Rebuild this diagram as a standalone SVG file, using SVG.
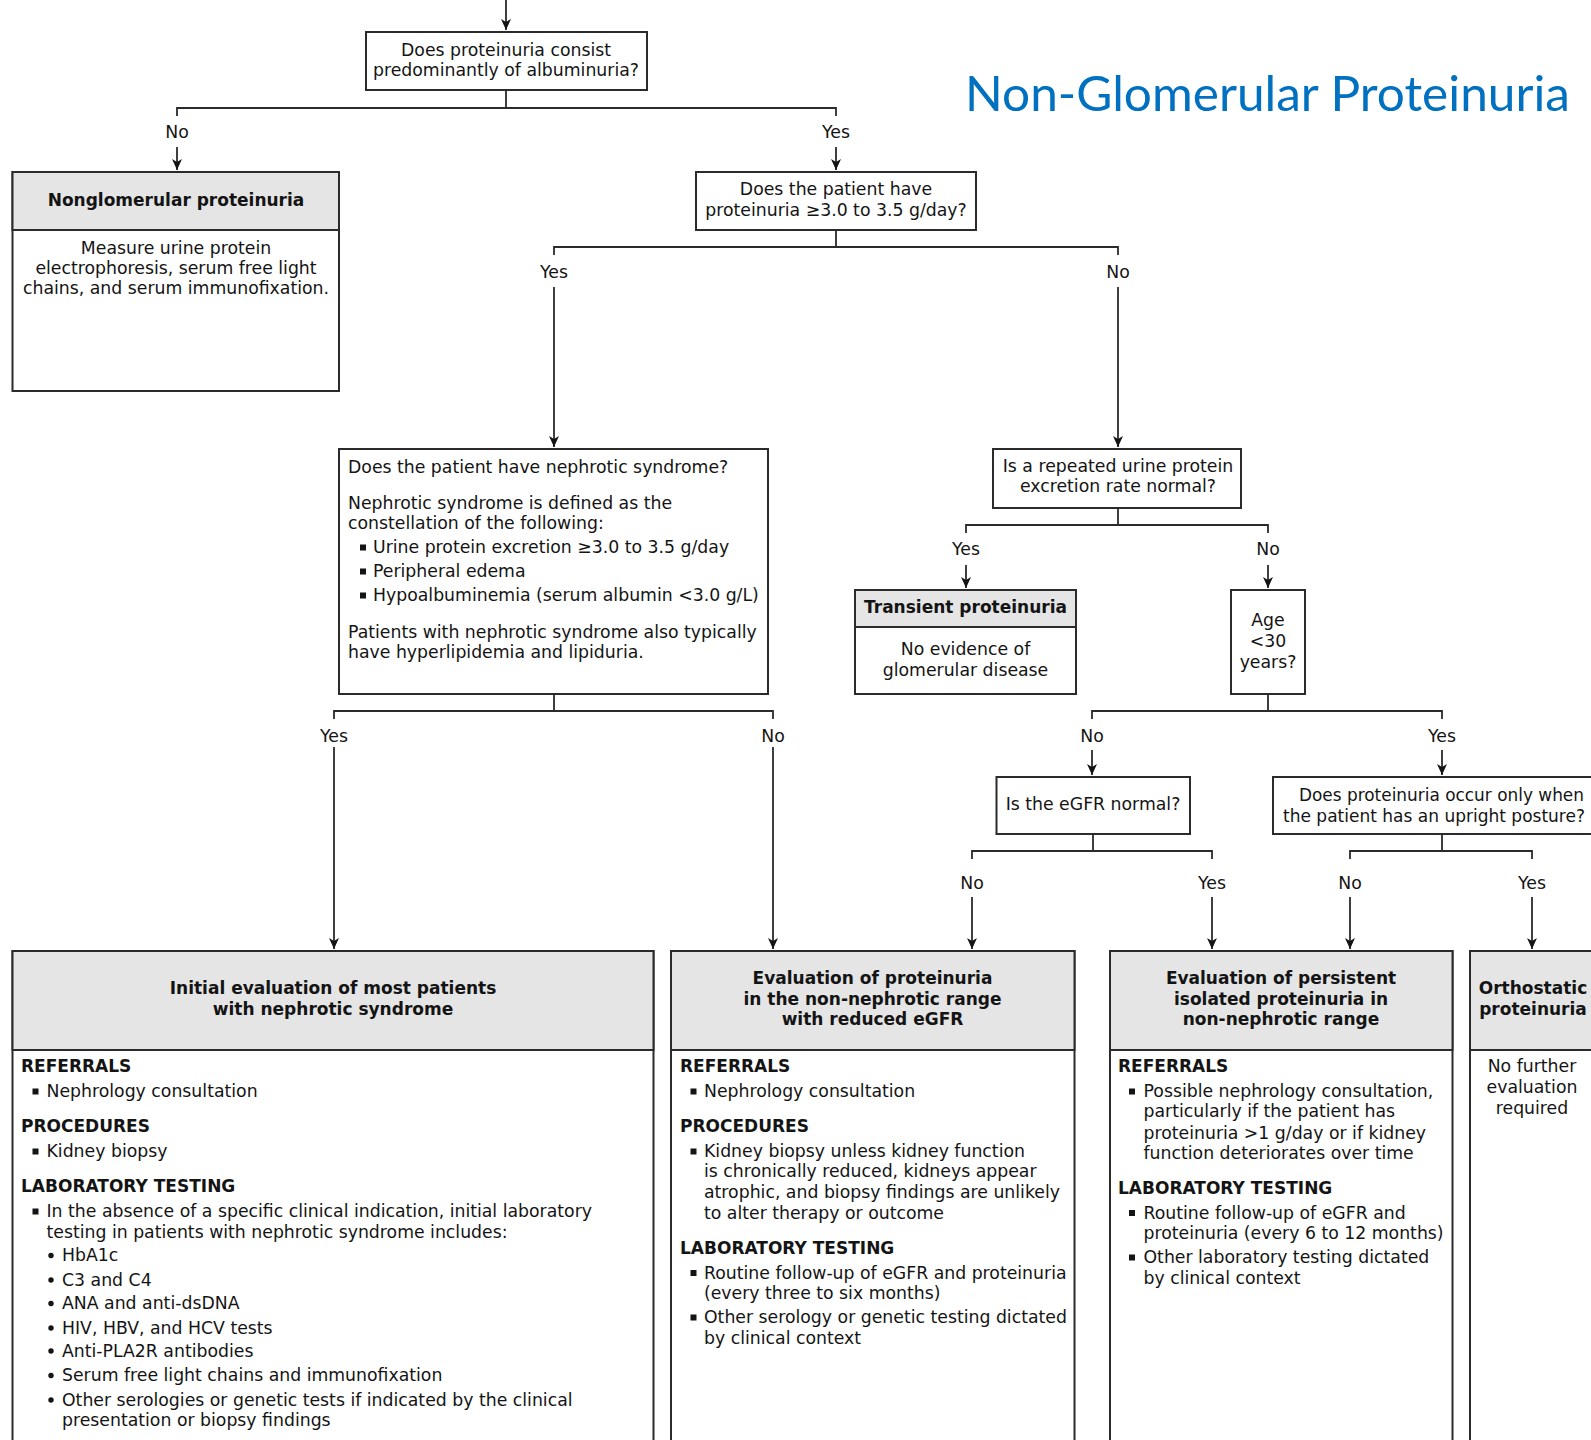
<svg xmlns="http://www.w3.org/2000/svg" width="1591" height="1440" viewBox="0 0 1591 1440">
<defs>
<style>
.t{font-family:"DejaVu Sans",Verdana,sans-serif;font-size:17.3px;fill:#141414}
.b{font-weight:bold;font-size:17px}
.c{text-anchor:middle}
.box{fill:#fff;stroke:#2b2b2b;stroke-width:2}
.hd{fill:#e5e5e5;stroke:#2b2b2b;stroke-width:2}
.ln{fill:none;stroke:#2b2b2b;stroke-width:1.8}
.sq{fill:#141414}
.title{font-family:Lato,"Open Sans",sans-serif;font-size:48px;fill:#0070c0}
</style>
<marker id="ah" viewBox="0 -5 11 10" refX="11" refY="0" markerWidth="11" markerHeight="10" markerUnits="userSpaceOnUse" orient="auto">
<path d="M0,-5 L11,0 L0,5 L3,0 z" fill="#141414"/>
</marker>
</defs>
<rect width="1591" height="1440" fill="#fff"/>

<text class="title" x="965" y="111" textLength="605" lengthAdjust="spacingAndGlyphs">Non-Glomerular Proteinuria</text>

<g id="connectors">
<path class="ln" d="M506,0 V30" marker-end="url(#ah)"/>
<path class="ln" d="M506,90 V108 M177,116 V108 H836 V116"/>
<path class="ln" d="M177,147 V170" marker-end="url(#ah)"/>
<path class="ln" d="M836,147 V170" marker-end="url(#ah)"/>
<path class="ln" d="M836,230 V247 M554,255 V247 H1118 V255"/>
<path class="ln" d="M554,287 V447" marker-end="url(#ah)"/>
<path class="ln" d="M1118,287 V447" marker-end="url(#ah)"/>
<path class="ln" d="M554,694 V711 M334,719 V711 H773 V719"/>
<path class="ln" d="M334,747 V949" marker-end="url(#ah)"/>
<path class="ln" d="M773,747 V949" marker-end="url(#ah)"/>
<path class="ln" d="M1118,508 V525 M966,533 V525 H1268 V533"/>
<path class="ln" d="M966,565 V588" marker-end="url(#ah)"/>
<path class="ln" d="M1268,565 V588" marker-end="url(#ah)"/>
<path class="ln" d="M1268,694 V711 M1092,719 V711 H1442 V719"/>
<path class="ln" d="M1092,750 V775" marker-end="url(#ah)"/>
<path class="ln" d="M1442,750 V775" marker-end="url(#ah)"/>
<path class="ln" d="M1093,834 V851 M972,859 V851 H1212 V859"/>
<path class="ln" d="M972,897 V949" marker-end="url(#ah)"/>
<path class="ln" d="M1212,897 V949" marker-end="url(#ah)"/>
<path class="ln" d="M1442,834 V851 M1350,859 V851 H1532 V859"/>
<path class="ln" d="M1350,897 V949" marker-end="url(#ah)"/>
<path class="ln" d="M1532,897 V949" marker-end="url(#ah)"/>
<text class="t c" x="177" y="138">No</text>
<text class="t c" x="836" y="138">Yes</text>
<text class="t c" x="554" y="278">Yes</text>
<text class="t c" x="1118" y="278">No</text>
<text class="t c" x="334" y="742">Yes</text>
<text class="t c" x="773" y="742">No</text>
<text class="t c" x="966" y="555">Yes</text>
<text class="t c" x="1268" y="555">No</text>
<text class="t c" x="1092" y="742">No</text>
<text class="t c" x="1442" y="742">Yes</text>
<text class="t c" x="972" y="889">No</text>
<text class="t c" x="1212" y="889">Yes</text>
<text class="t c" x="1350" y="889">No</text>
<text class="t c" x="1532" y="889">Yes</text>
</g>

<g id="q-albuminuria">
<rect class="box" x="366" y="32" width="281" height="58"/>
<text class="t c" x="506" y="56">Does proteinuria consist</text>
<text class="t c" x="506" y="76">predominantly of albuminuria?</text>
</g>

<g id="nonglomerular">
<rect class="box" x="12.5" y="172" width="326.5" height="219"/>
<rect class="hd" x="12.5" y="172" width="326.5" height="58"/>
<text class="t b c" x="176" y="206">Nonglomerular proteinuria</text>
<text class="t c" x="176" y="254">Measure urine protein</text>
<text class="t c" x="176" y="274">electrophoresis, serum free light</text>
<text class="t c" x="176" y="294">chains, and serum immunofixation.</text>
</g>

<g id="q-nephrotic-range">
<rect class="box" x="696" y="172" width="280" height="58"/>
<text class="t c" x="836" y="195">Does the patient have</text>
<text class="t c" x="836" y="216">proteinuria ≥3.0 to 3.5 g/day?</text>
</g>

<g id="q-nephrotic-syndrome">
<rect class="box" x="339" y="449" width="429" height="245"/>
<text class="t" x="348" y="473">Does the patient have nephrotic syndrome?</text>
<text class="t" x="348" y="509">Nephrotic syndrome is defined as the</text>
<text class="t" x="348" y="529">constellation of the following:</text>
<rect class="sq" x="360" y="544.5" width="6" height="6"/>
<text class="t" x="373" y="553">Urine protein excretion ≥3.0 to 3.5 g/day</text>
<rect class="sq" x="360" y="568.5" width="6" height="6"/>
<text class="t" x="373" y="577">Peripheral edema</text>
<rect class="sq" x="360" y="592.5" width="6" height="6"/>
<text class="t" x="373" y="601">Hypoalbuminemia (serum albumin &lt;3.0 g/L)</text>
<text class="t" x="348" y="638">Patients with nephrotic syndrome also typically</text>
<text class="t" x="348" y="658">have hyperlipidemia and lipiduria.</text>
</g>

<g id="q-repeated">
<rect class="box" x="993" y="449" width="248" height="59"/>
<text class="t c" x="1118" y="472">Is a repeated urine protein</text>
<text class="t c" x="1118" y="492">excretion rate normal?</text>
</g>

<g id="transient">
<rect class="box" x="855" y="590" width="221" height="104"/>
<rect class="hd" x="855" y="590" width="221" height="37"/>
<text class="t b c" x="965.5" y="613">Transient proteinuria</text>
<text class="t c" x="965.5" y="655">No evidence of</text>
<text class="t c" x="965.5" y="676">glomerular disease</text>
</g>

<g id="q-age">
<rect class="box" x="1231" y="590" width="74" height="104"/>
<text class="t c" x="1268" y="626">Age</text>
<text class="t c" x="1268" y="647">&lt;30</text>
<text class="t c" x="1268" y="668">years?</text>
</g>

<g id="q-egfr">
<rect class="box" x="996.5" y="777" width="193.5" height="57"/>
<text class="t c" x="1093" y="810">Is the eGFR normal?</text>
</g>

<g id="q-upright">
<rect class="box" x="1273" y="777" width="340" height="57"/>
<text class="t" x="1299" y="801" textLength="285" lengthAdjust="spacingAndGlyphs">Does proteinuria occur only when</text>
<text class="t" x="1283" y="822" textLength="302" lengthAdjust="spacingAndGlyphs">the patient has an upright posture?</text>
</g>

<g id="eval-nephrotic">
<rect class="box" x="12.5" y="951" width="641" height="520"/>
<rect class="hd" x="12.5" y="951" width="641" height="99"/>
<text class="t b c" x="333" y="994">Initial evaluation of most patients</text>
<text class="t b c" x="333" y="1015">with nephrotic syndrome</text>
<text class="t b" x="21" y="1072">REFERRALS</text>
<rect class="sq" x="32.5" y="1088.5" width="6" height="6"/>
<text class="t" x="46.5" y="1097">Nephrology consultation</text>
<text class="t b" x="21" y="1132">PROCEDURES</text>
<rect class="sq" x="32.5" y="1148.5" width="6" height="6"/>
<text class="t" x="46.5" y="1157">Kidney biopsy</text>
<text class="t b" x="21" y="1192">LABORATORY TESTING</text>
<rect class="sq" x="32.5" y="1208.5" width="6" height="6"/>
<text class="t" x="46.5" y="1217">In the absence of a specific clinical indication, initial laboratory</text>
<text class="t" x="46.5" y="1238">testing in patients with nephrotic syndrome includes:</text>
<circle class="sq" cx="51" cy="1255.5" r="2.7"/>
<text class="t" x="62" y="1261">HbA1c</text>
<circle class="sq" cx="51" cy="1280" r="2.7"/>
<text class="t" x="62" y="1285.5">C3 and C4</text>
<circle class="sq" cx="51" cy="1303.5" r="2.7"/>
<text class="t" x="62" y="1309">ANA and anti-dsDNA</text>
<circle class="sq" cx="51" cy="1328" r="2.7"/>
<text class="t" x="62" y="1333.5">HIV, HBV, and HCV tests</text>
<circle class="sq" cx="51" cy="1351" r="2.7"/>
<text class="t" x="62" y="1356.5">Anti-PLA2R antibodies</text>
<circle class="sq" cx="51" cy="1375.5" r="2.7"/>
<text class="t" x="62" y="1381">Serum free light chains and immunofixation</text>
<circle class="sq" cx="51" cy="1400" r="2.7"/>
<text class="t" x="62" y="1405.5">Other serologies or genetic tests if indicated by the clinical</text>
<text class="t" x="62" y="1425.5">presentation or biopsy findings</text>
</g>

<g id="eval-reduced-egfr">
<rect class="box" x="671" y="951" width="403.5" height="520"/>
<rect class="hd" x="671" y="951" width="403.5" height="99"/>
<text class="t b c" x="872.5" y="984">Evaluation of proteinuria</text>
<text class="t b c" x="872.5" y="1004.5">in the non-nephrotic range</text>
<text class="t b c" x="872.5" y="1025">with reduced eGFR</text>
<text class="t b" x="680" y="1072">REFERRALS</text>
<rect class="sq" x="690.5" y="1088.5" width="6" height="6"/>
<text class="t" x="704" y="1097">Nephrology consultation</text>
<text class="t b" x="680" y="1132">PROCEDURES</text>
<rect class="sq" x="690.5" y="1148.5" width="6" height="6"/>
<text class="t" x="704" y="1157">Kidney biopsy unless kidney function</text>
<text class="t" x="704" y="1177">is chronically reduced, kidneys appear</text>
<text class="t" x="704" y="1197.5">atrophic, and biopsy findings are unlikely</text>
<text class="t" x="704" y="1218.5">to alter therapy or outcome</text>
<text class="t b" x="680" y="1254">LABORATORY TESTING</text>
<rect class="sq" x="690.5" y="1270" width="6" height="6"/>
<text class="t" x="704" y="1278.5">Routine follow-up of eGFR and proteinuria</text>
<text class="t" x="704" y="1299">(every three to six months)</text>
<rect class="sq" x="690.5" y="1314.5" width="6" height="6"/>
<text class="t" x="704" y="1323">Other serology or genetic testing dictated</text>
<text class="t" x="704" y="1343.5">by clinical context</text>
</g>

<g id="eval-persistent">
<rect class="box" x="1110" y="951" width="342.5" height="520"/>
<rect class="hd" x="1110" y="951" width="342.5" height="99"/>
<text class="t b c" x="1281" y="984">Evaluation of persistent</text>
<text class="t b c" x="1281" y="1004.5">isolated proteinuria in</text>
<text class="t b c" x="1281" y="1025">non-nephrotic range</text>
<text class="t b" x="1118" y="1072">REFERRALS</text>
<rect class="sq" x="1129" y="1088.5" width="6" height="6"/>
<text class="t" x="1143.5" y="1097">Possible nephrology consultation,</text>
<text class="t" x="1143.5" y="1117">particularly if the patient has</text>
<text class="t" x="1143.5" y="1138.5">proteinuria &gt;1 g/day or if kidney</text>
<text class="t" x="1143.5" y="1159">function deteriorates over time</text>
<text class="t b" x="1118" y="1194">LABORATORY TESTING</text>
<rect class="sq" x="1129" y="1210" width="6" height="6"/>
<text class="t" x="1143.5" y="1218.5">Routine follow-up of eGFR and</text>
<text class="t" x="1143.5" y="1239">proteinuria (every 6 to 12 months)</text>
<rect class="sq" x="1129" y="1254.5" width="6" height="6"/>
<text class="t" x="1143.5" y="1263">Other laboratory testing dictated</text>
<text class="t" x="1143.5" y="1283.5">by clinical context</text>
</g>

<g id="orthostatic">
<rect class="box" x="1470" y="951" width="126" height="520"/>
<rect class="hd" x="1470" y="951" width="126" height="99"/>
<text class="t b c" x="1533" y="994">Orthostatic</text>
<text class="t b c" x="1533" y="1015">proteinuria</text>
<text class="t c" x="1532" y="1072">No further</text>
<text class="t c" x="1532" y="1093">evaluation</text>
<text class="t c" x="1532" y="1114">required</text>
</g>
</svg>
